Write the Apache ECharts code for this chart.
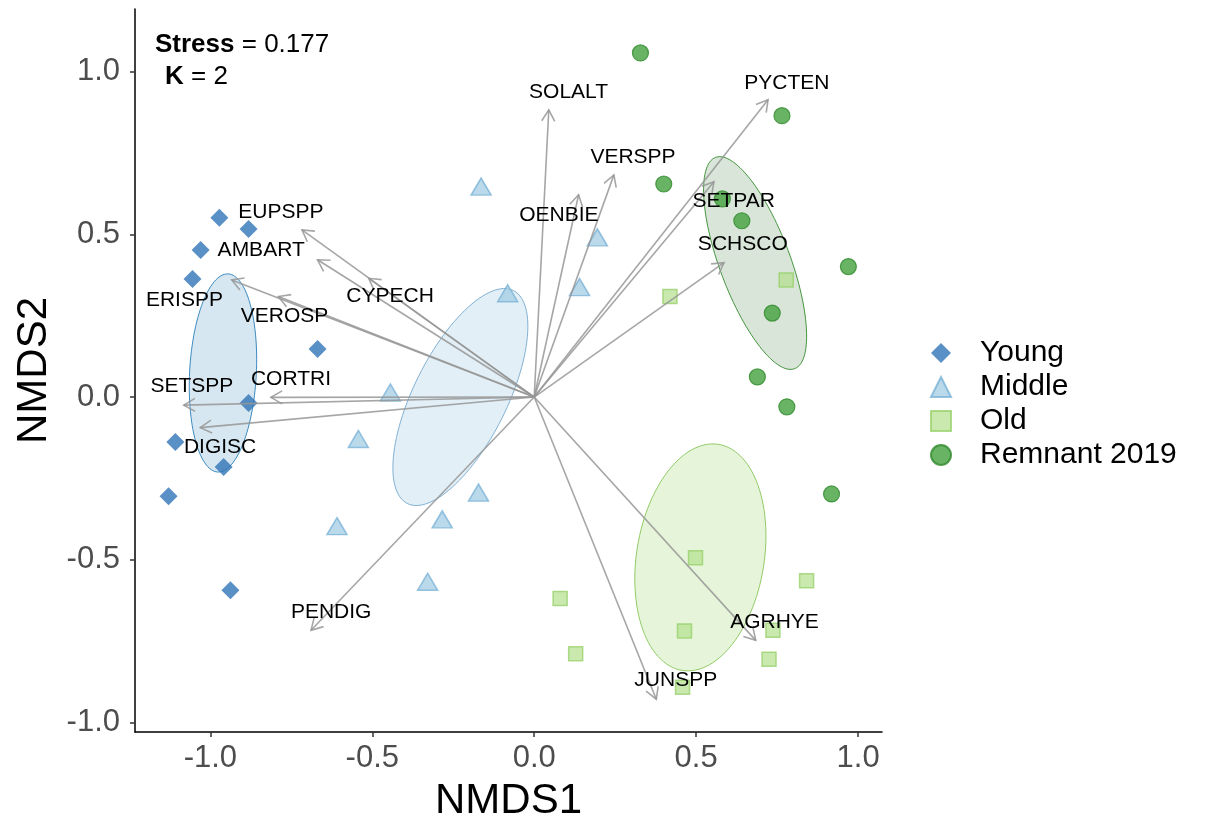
<!DOCTYPE html>
<html>
<head>
<meta charset="utf-8">
<script src="https://cdn.jsdelivr.net/npm/echarts@6/dist/echarts.min.js"></script>
<style>
  html, body { margin: 0; padding: 0; background: #ffffff; }
  #chart { width: 1219px; height: 820px; }
</style>
</head>
<body>
<div id="chart"></div>
<script>
// NMDS site scores by stand age class
const young = [
  [-0.972, 0.551], [-0.882, 0.517], [-1.030, 0.452], [-1.055, 0.363], [-0.669, 0.148],
  [-0.882, -0.018], [-1.108, -0.138], [-0.959, -0.215], [-1.129, -0.305], [-0.938, -0.594]
];
const middle = [
  [-0.164, 0.647], [0.195, 0.491], [-0.082, 0.319], [0.140, 0.338], [-0.444, 0.014],
  [-0.543, -0.129], [-0.172, -0.294], [-0.284, -0.376], [-0.609, -0.397], [-0.329, -0.568]
];
const old = [
  [0.419, 0.309], [0.778, 0.360], [0.498, -0.494], [0.841, -0.565], [0.080, -0.619],
  [0.464, -0.719], [0.737, -0.717], [0.128, -0.789], [0.725, -0.806], [0.458, -0.892]
];
const remnant = [
  [0.328, 1.058], [0.765, 0.865], [0.400, 0.655], [0.581, 0.609], [0.641, 0.542],
  [0.970, 0.401], [0.735, 0.258], [0.689, 0.062], [0.780, -0.030], [0.918, -0.298]
];

// Group ellipses: centre x, centre y, semi-major, semi-minor, rotation (degrees)
const ellipseYoung   = [-0.961, 0.074, 0.305, 0.103, 87.0];
const ellipseMiddle  = [-0.228, 0.000, 0.366, 0.144, 63.4];
const ellipseOld     = [0.513, -0.493, 0.352, 0.197, 80.8];
const ellipseRemnant = [0.682, 0.412, 0.347, 0.109, 110.6];

// Species vectors: names, arrow tips and label anchors
const vecNames = ['SOLALT', 'VERSPP', 'OENBIE', 'PYCTEN', 'SETPAR', 'SCHSCO', 'EUPSPP', 'AMBART',
  'CYPECH', 'ERISPP', 'VEROSP', 'CORTRI', 'SETSPP', 'DIGISC', 'PENDIG', 'AGRHYE', 'JUNSPP'];
const vecTips = [
  [0.045, 0.883], [0.246, 0.683], [0.137, 0.622], [0.722, 0.914], [0.555, 0.662], [0.586, 0.413],
  [-0.717, 0.514], [-0.669, 0.422], [-0.511, 0.365], [-0.934, 0.360], [-0.790, 0.309],
  [-0.813, -0.001], [-1.082, -0.025], [-1.031, -0.094], [-0.689, -0.717], [0.684, -0.748], [0.377, -0.929]
];
const vecLabels = [
  [0.106, 0.936], [0.305, 0.737], [0.076, 0.559], [0.780, 0.965], [0.616, 0.603], [0.644, 0.470],
  [-0.782, 0.569], [-0.843, 0.452], [-0.445, 0.309], [-1.080, 0.298], [-0.771, 0.247],
  [-0.751, 0.055], [-1.057, 0.034], [-0.970, -0.155], [-0.627, -0.661], [0.742, -0.691], [0.437, -0.871]
];

const xTicks = [-1.0, -0.5, 0.0, 0.5, 1.0];
const yTicks = [-1.0, -0.5, 0.0, 0.5, 1.0];
const xRange = [-1.2326, 1.0738];
const yRange = [-1.0298, 1.193];

const FONT = '"Liberation Sans", Arial, Helvetica, sans-serif';

const ellipseStyles = [
  { fill: 'rgba(31,120,180,0.18)', stroke: 'rgba(31,120,180,0.85)' },
  { fill: 'rgba(166,206,227,0.32)', stroke: 'rgba(110,165,205,0.85)' },
  { fill: 'rgba(178,223,138,0.32)', stroke: 'rgba(140,200,95,0.95)' },
  { fill: 'rgba(40,110,40,0.18)', stroke: 'rgba(51,140,44,0.9)' }
];

function renderEllipse(params, api) {
  const cx = api.value(0), cy = api.value(1);
  const a = api.value(2), b = api.value(3);
  const th = api.value(4) * Math.PI / 180;
  const pts = [];
  const n = 120;
  for (let i = 0; i < n; i++) {
    const t = 2 * Math.PI * i / n;
    const u = a * Math.cos(t), v = b * Math.sin(t);
    pts.push(api.coord([cx + u * Math.cos(th) - v * Math.sin(th), cy + u * Math.sin(th) + v * Math.cos(th)]));
  }
  const st = ellipseStyles[params.dataIndex];
  return {
    type: 'polygon',
    shape: { points: pts },
    style: { fill: st.fill, stroke: st.stroke, lineWidth: 1 }
  };
}

const ARROW = 'rgba(150,150,150,0.85)';
function renderArrow(params, api) {
  const p0 = api.coord([api.value(0), api.value(1)]);
  const p1 = api.coord([api.value(2), api.value(3)]);
  const pl = api.coord([api.value(4), api.value(5)]);
  const ang = Math.atan2(p1[1] - p0[1], p1[0] - p0[0]);
  const L = 13, w = Math.PI / 6;
  const h1 = [p1[0] - L * Math.cos(ang - w), p1[1] - L * Math.sin(ang - w)];
  const h2 = [p1[0] - L * Math.cos(ang + w), p1[1] - L * Math.sin(ang + w)];
  return {
    type: 'group',
    children: [
      { type: 'line', shape: { x1: p0[0], y1: p0[1], x2: p1[0], y2: p1[1] },
        style: { stroke: ARROW, lineWidth: 1.6 } },
      { type: 'polyline', shape: { points: [h1, p1, h2] },
        style: { stroke: ARROW, lineWidth: 1.6, fill: null } },
      { type: 'text', x: pl[0], y: pl[1], z2: 10,
        style: { text: vecNames[params.dataIndex], fontSize: 21, fontFamily: FONT,
                 fill: '#000', align: 'center', verticalAlign: 'middle' } }
    ]
  };
}

const chart = echarts.init(document.getElementById('chart'), null, { renderer: 'canvas' });

const option = {
  backgroundColor: '#ffffff',
  animation: false,
  grid: { left: 135, right: 337, top: 9, bottom: 88, containLabel: false, outerBoundsMode: 'none' },
  xAxis: {
    type: 'value', min: xRange[0], max: xRange[1],
    splitLine: { show: false },
    axisLine: { show: true, onZero: false, lineStyle: { color: '#000', width: 1.5 } },
    axisTick: { show: true, length: 5, customValues: xTicks, lineStyle: { color: '#333', width: 1.5 } },
    axisLabel: { customValues: xTicks, formatter: v => v.toFixed(1), fontSize: 31,
                 color: '#4D4D4D', margin: 11, fontFamily: FONT },
    name: 'NMDS1', nameLocation: 'middle', nameGap: 48,
    nameTextStyle: { fontSize: 42, color: '#000', fontFamily: FONT }
  },
  yAxis: {
    type: 'value', min: yRange[0], max: yRange[1],
    splitLine: { show: false },
    axisLine: { show: true, onZero: false, lineStyle: { color: '#000', width: 1.5 } },
    axisTick: { show: true, length: 5, customValues: yTicks, lineStyle: { color: '#333', width: 1.5 } },
    axisLabel: { customValues: yTicks, formatter: v => v.toFixed(1), fontSize: 31,
                 color: '#4D4D4D', margin: 15, fontFamily: FONT },
    name: 'NMDS2', nameLocation: 'middle', nameGap: 77, nameRotate: 90,
    nameTextStyle: { fontSize: 42, color: '#000', fontFamily: FONT }
  },
  legend: {
    orient: 'vertical', left: 925, top: 333,
    itemWidth: 20, itemHeight: 20, itemGap: 4,
    selectedMode: false,
    data: ['Young', 'Middle', 'Old', 'Remnant 2019'],
    textStyle: { fontSize: 30, color: '#000', fontFamily: FONT, padding: [0, 0, 0, 24] }
  },
  graphic: [
    { type: 'text', left: 155, top: 32,
      style: { text: '{b|Stress} = 0.177', fontSize: 26, fontFamily: FONT, fill: '#000',
               rich: { b: { fontWeight: 'bold', fontSize: 26, fontFamily: FONT } } } },
    { type: 'text', left: 165, top: 64,
      style: { text: '{b|K} = 2', fontSize: 26, fontFamily: FONT, fill: '#000',
               rich: { b: { fontWeight: 'bold', fontSize: 26, fontFamily: FONT } } } }
  ],
  series: [
    {
      type: 'custom', name: 'ellipses', z: 1, silent: true,
      renderItem: renderEllipse,
      encode: { x: 0, y: 1 },
      data: [ellipseYoung, ellipseMiddle, ellipseOld, ellipseRemnant]
    },
    {
      type: 'scatter', name: 'Young', z: 2, symbol: 'diamond', symbolSize: 18,
      itemStyle: { color: '#2F74B6' },
      data: young
    },
    {
      type: 'scatter', name: 'Middle', z: 2, symbol: 'triangle', symbolSize: [20, 17],
      itemStyle: { color: 'rgba(160,202,226,0.9)', borderColor: 'rgba(120,176,214,0.95)', borderWidth: 1.5 },
      data: middle
    },
    {
      type: 'scatter', name: 'Old', z: 2, symbol: 'rect', symbolSize: 14,
      itemStyle: { color: 'rgba(178,223,138,0.85)', borderColor: 'rgba(150,208,105,0.95)', borderWidth: 1.5 },
      data: old
    },
    {
      type: 'scatter', name: 'Remnant 2019', z: 2, symbol: 'circle', symbolSize: 16,
      itemStyle: { color: '#44A03E', borderColor: '#2E8A2B', borderWidth: 1.2 },
      data: remnant
    },
    {
      type: 'custom', name: 'vectors', z: 3, silent: true,
      renderItem: renderArrow,
      encode: { x: [0, 2, 4], y: [1, 3, 5] },
      data: vecTips.map((t, i) => [0, 0, t[0], t[1], vecLabels[i][0], vecLabels[i][1]])
    }
  ]
};

chart.setOption(option);
</script>
</body>
</html>
